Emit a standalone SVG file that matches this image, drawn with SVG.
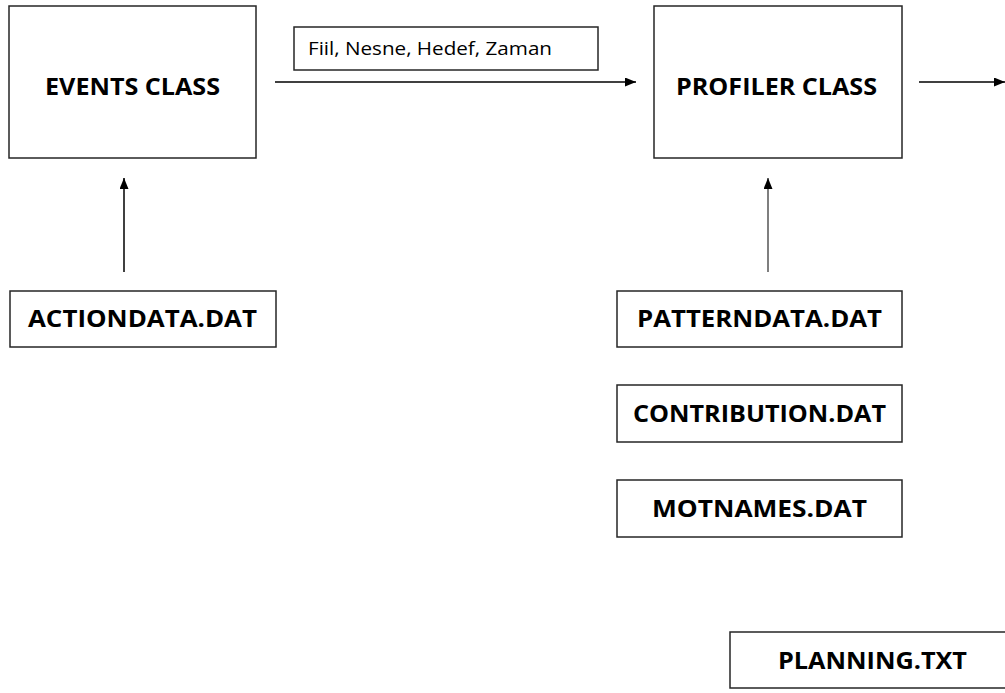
<svg xmlns="http://www.w3.org/2000/svg" width="1005" height="693" viewBox="0 0 1005 693">
<style>
.box{fill:#fff;stroke:#262626;stroke-width:1.5}
.t{font-family:"Open Sans","Liberation Sans",sans-serif;font-weight:bold;font-size:24px;fill:#000;text-anchor:middle}
.lbl{font-family:"Open Sans","Liberation Sans",sans-serif;font-size:18px;fill:#000}
.c{stroke:#000;stroke-width:1.5;fill:none;marker-end:url(#ah)}
</style>
<defs>
<marker id="ah" viewBox="0 0 11 9" refX="11" refY="4.5" markerWidth="11" markerHeight="9" markerUnits="userSpaceOnUse" orient="auto">
<path d="M0,0 L11,4.5 L0,9 Z" fill="#000"/>
</marker>
</defs>
<rect width="1005" height="693" fill="#fff"/>
<g id="connectors">
<line class="c" x1="275" y1="82" x2="636" y2="82"/>
<line class="c" x1="919" y1="82" x2="1005" y2="82"/>
<line class="c" x1="124" y1="272" x2="124" y2="178"/>
<line class="c" x1="768" y1="272" x2="768" y2="178" style="stroke:#555"/>
</g>
<g id="label">
<rect class="box" x="294" y="27" width="304" height="43"/>
<text class="lbl" x="308" y="55" textLength="244" lengthAdjust="spacingAndGlyphs">Fiil, Nesne, Hedef, Zaman</text>
</g>
<g id="events">
<rect class="box" x="9" y="6" width="247" height="152"/>
<text class="t" x="132.5" y="95" textLength="175" lengthAdjust="spacingAndGlyphs">EVENTS CLASS</text>
</g>
<g id="profiler">
<rect class="box" x="654" y="6" width="248" height="152"/>
<text class="t" x="776.5" y="95" textLength="201" lengthAdjust="spacingAndGlyphs">PROFILER CLASS</text>
</g>
<g id="actiondata">
<rect class="box" x="10" y="291" width="266" height="56"/>
<text class="t" x="142.5" y="327" textLength="229" lengthAdjust="spacingAndGlyphs">ACTIONDATA.DAT</text>
</g>
<g id="patterndata">
<rect class="box" x="617" y="291" width="285" height="56"/>
<text class="t" x="759.5" y="327" textLength="245" lengthAdjust="spacingAndGlyphs">PATTERNDATA.DAT</text>
</g>
<g id="contribution">
<rect class="box" x="617" y="385" width="285" height="57"/>
<text class="t" x="759.5" y="422" textLength="253" lengthAdjust="spacingAndGlyphs">CONTRIBUTION.DAT</text>
</g>
<g id="motnames">
<rect class="box" x="617" y="480" width="285" height="57"/>
<text class="t" x="759.5" y="517" textLength="215" lengthAdjust="spacingAndGlyphs">MOTNAMES.DAT</text>
</g>
<g id="planning">
<rect class="box" x="730" y="632" width="285" height="56"/>
<text class="t" x="872.5" y="669" textLength="189" lengthAdjust="spacingAndGlyphs">PLANNING.TXT</text>
</g>
</svg>
